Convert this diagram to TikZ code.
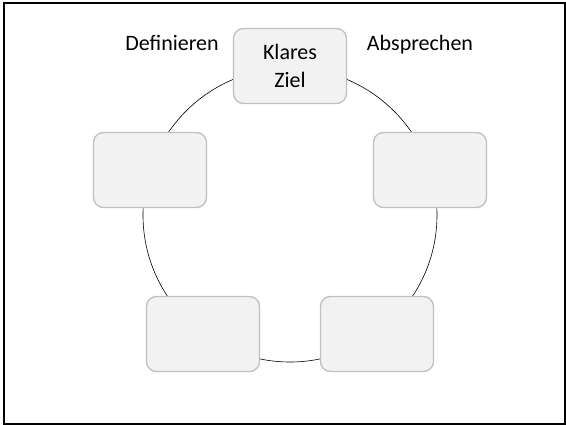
\documentclass[tikz,border=0pt]{standalone}
\usepackage{fontspec}
\setmainfont{Carlito}
\usetikzlibrary{positioning}

\definecolor{kastenrand}{HTML}{BFBFBF}
\definecolor{kastenfuell}{HTML}{F2F2F2}

\tikzset{
	kasten/.style={draw=kastenrand, fill=kastenfuell, line width=1.3pt, rounded corners=10pt,
		minimum width=113pt, minimum height=75pt, align=center, inner sep=0pt,
		font=\fontsize{22}{28}\selectfont},
	beschr/.style={font=\fontsize{22}{28}\selectfont, inner sep=0pt, anchor=base}
}

\begin{document}
\begin{tikzpicture}[x=1pt, y=-1pt]
	\useasboundingbox (0,0) rectangle (566,425);
	\draw[line width=1.5pt] (4,3) rectangle (565,424);

	\coordinate (mitte) at (290,215);
	\draw[line width=0.6pt] (mitte) circle (147);

	\node[kasten] (ziel) at (290,66) {Klares\\Ziel};
	\node[kasten] (links) at (150,170) {};
	\node[kasten] (rechts) at (430,170) {};
	\node[kasten] (untenlinks) at (203,334) {};
	\node[kasten] (untenrechts) at (377,334) {};

	\node[beschr] (definieren) at (172,51) {Definieren};
	\node[beschr] (absprechen) at (420,51) {Absprechen};
\end{tikzpicture}
\end{document}
